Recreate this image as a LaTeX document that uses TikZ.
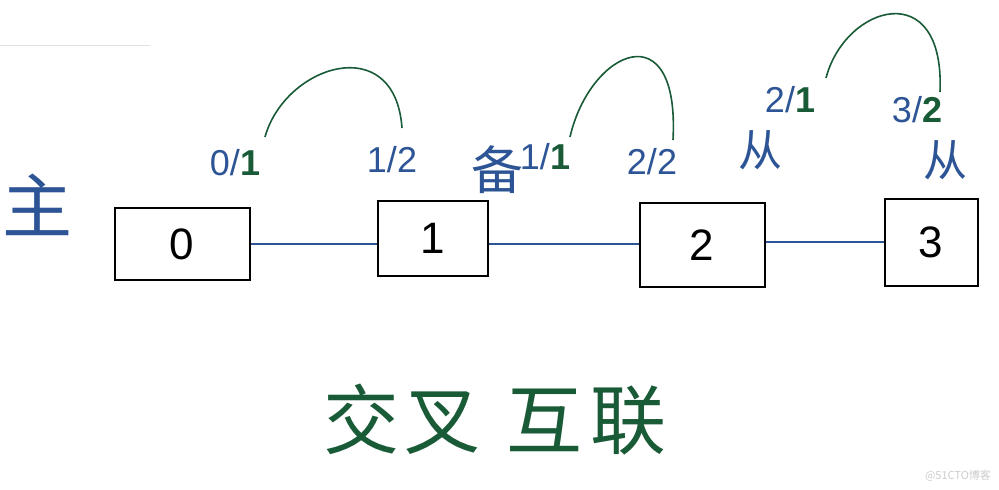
\documentclass[tikz,border=0pt]{standalone}
\usepackage{fontspec}
\setmainfont{Liberation Sans}
\newfontfamily\cjk{Noto Sans CJK SC}
\definecolor{blu}{RGB}{45,85,150}
\definecolor{grn}{RGB}{25,90,55}
\definecolor{wm}{RGB}{205,205,205}
\begin{document}
\begin{tikzpicture}[x=1pt,y=-1pt,
  box/.style={draw=black, line width=2pt, inner sep=0pt, font=\fontsize{44}{44}\selectfont},
  link/.style={draw=blu, line width=1.8pt},
  arcline/.style={draw=grn, line width=1.6pt},
  lab/.style={inner sep=0pt, text=blu, font=\fontsize{36}{36}\selectfont},
  cn/.style={inner sep=0pt, text=blu, font=\cjk\fontsize{44}{44}\selectfont},
  big/.style={inner sep=0pt, text=grn, font=\cjk\fontsize{76}{76}\selectfont}]
\useasboundingbox[fill=white] (0,0) rectangle (999,490);
\draw[wm!60, line width=0.8pt] (0,45) -- (150,45);
% boxes
\node[box, minimum width=135pt, minimum height=72pt] (b0) at (182,244) {0};
\node[box, minimum width=110pt, minimum height=75pt] (b1) at (433,238) {1};
\node[box, minimum width=125pt, minimum height=84pt] (b2) at (702,245) {2};
\node[box, minimum width=93pt, minimum height=87pt] (b3) at (931,242) {3};
% links
\draw[link] (b0.east) -- (b1.west |- b0.east);
\draw[link] (b1.east |- b0.east) -- (b2.west |- b0.east);
\draw[link] (b2.east |- b3.west) -- (b3.west);
% labels
\node[cn, font=\cjk\fontsize{70}{70}\selectfont] (zhu) at (37,205) {主};
\node[lab] (l01) at (235,163) {0/{\color{grn}\textbf{1}}};
\node[lab] (l12) at (392,160) {1/2};
\node[cn, font=\cjk\fontsize{52}{52}\selectfont] (bei) at (497,170) {备};
\node[lab] (l11) at (545,157) {1/{\color{grn}\textbf{1}}};
\node[lab] (l22) at (652,162) {2/2};
\node[cn] (c2) at (760,150) {从};
\node[lab] (l21) at (790,100) {2/{\color{grn}\textbf{1}}};
\node[lab] (l32) at (917,110) {3/{\color{grn}\textbf{2}}};
\node[cn] (c3) at (945,160) {从};
% arc end points
\coordinate (a1s) at (265,137);
\coordinate (a1e) at (402,128);
\coordinate (a2s) at (570,137);
\coordinate (a2e) at (673,140);
\coordinate (a3s) at (826,78);
\coordinate (a3e) at (940,92);
\draw[arcline] (a1s) .. controls (285,65) and (395,30) .. (a1e);
\draw[arcline] (a2s) .. controls (590,50) and (680,10) .. (a2e);
\draw[arcline] (a3s) .. controls (845,5) and (945,-25) .. (a3e);
% title
\node[big] (title) at (495,420) {交\hspace{6pt}叉\hspace{26pt}互\hspace{8pt}联};
\node[inner sep=0pt, text=wm, font=\cjk\fontsize{11}{11}\selectfont] (wmark) at (958,476) {@51CTO博客};
\end{tikzpicture}
\end{document}
